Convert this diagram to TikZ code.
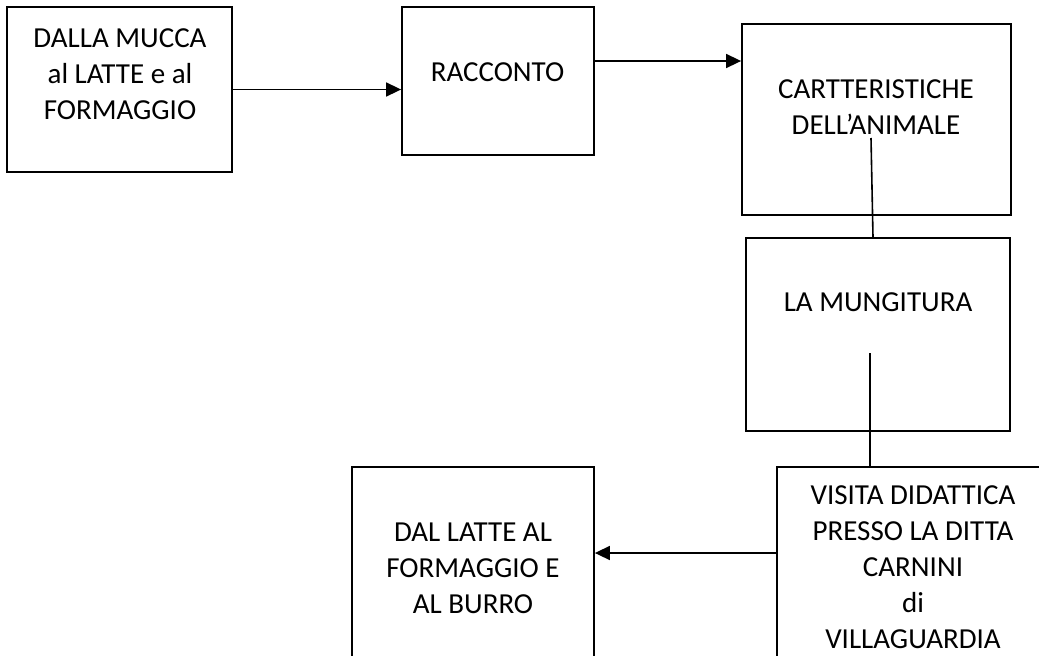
\documentclass[tikz,border=0pt]{standalone}
\usepackage{fontspec}
\setmainfont{Carlito}
\usetikzlibrary{arrows.meta}
\begin{document}
\begin{tikzpicture}[x=1pt,y=-1pt,
  box/.style={draw=black, line width=1.8pt, rectangle, inner sep=0pt},
  label/.style={anchor=north, align=center, inner sep=0pt,
    font=\fontsize{29}{36}\selectfont},
  link/.style={draw=black, line width=1.6pt},
  arrow/.style={link, -{Triangle[length=15pt,width=14pt]}}]
  \clip (0,0) rectangle (1039,656);
  \fill[white] (0,0) rectangle (1039,656);

  % boxes
  \node[box, minimum width=225pt, minimum height=165pt] (b1) at (119.5,89.5) {};
  \node[box, minimum width=192pt, minimum height=148pt] (b2) at (498,81) {};
  \node[box, minimum width=269pt, minimum height=191pt] (b3) at (876.5,119.5) {};
  \node[box, minimum width=264pt, minimum height=193pt] (b4) at (878,334.5) {};
  \node[box, minimum width=272pt, minimum height=260pt] (b5) at (913,597) {};
  \node[box, minimum width=242pt, minimum height=260pt] (b6) at (473,597) {};

  % texts
  \node[label] (t1) at (120,28.5) {DALLA MUCCA\\al LATTE e al\\FORMAGGIO};
  \node[label] (t2) at (497.5,62.5) {RACCONTO};
  \node[label] (t3) at (876,79.5) {CARTTERISTICHE\\DELL’ANIMALE};
  \node[label] (t4) at (878,292.5) {LA MUNGITURA};
  \node[label] (t5) at (913,485.5) {VISITA DIDATTICA\\PRESSO LA DITTA\\CARNINI\\di\\VILLAGUARDIA};
  \node[label] (t6) at (473,522.5) {DAL LATTE AL\\FORMAGGIO E\\AL BURRO};

  % connector levels and free ends
  \coordinate (y2) at (0,61);
  \coordinate (y3) at (0,553);
  \coordinate (c1) at (871,138);
  \coordinate (c2) at (870,353);

  % connectors
  \draw[arrow] (b1.east) -- (b1.east -| b2.west);
  \draw[arrow] (b2.east |- y2) -- (b3.west |- y2);
  \draw[link] (c1) -- ([xshift=2pt]c1 |- b4.north);
  \draw[link] (c2) -- (c2 |- b5.north);
  \draw[arrow] (b5.west |- y3) -- (b6.east |- y3);
\end{tikzpicture}
\end{document}
